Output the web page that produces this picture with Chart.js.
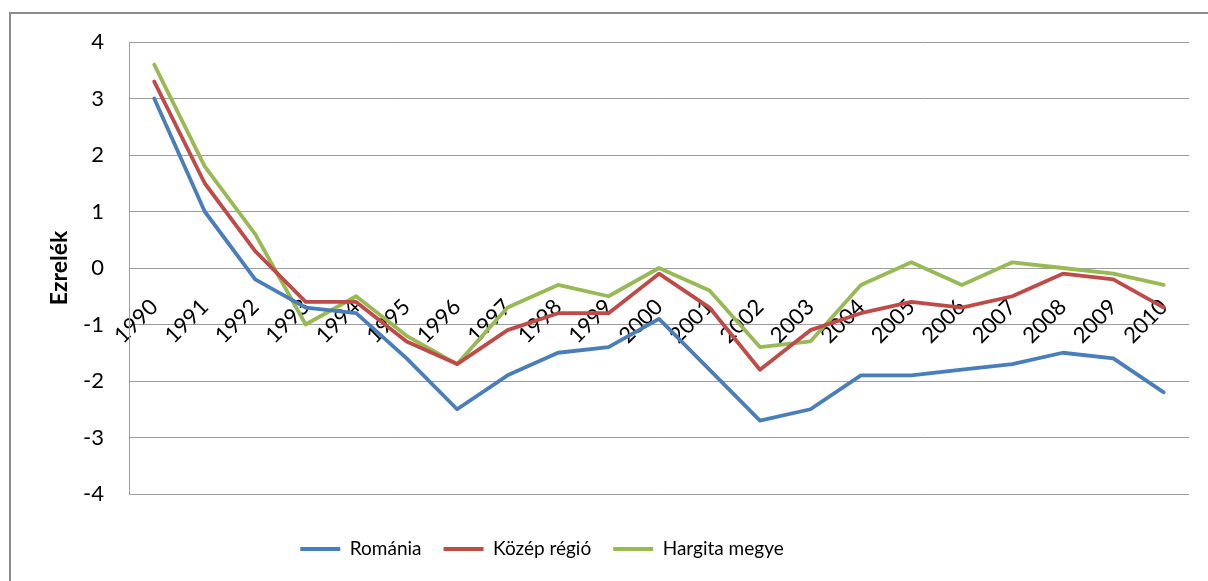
<!DOCTYPE html>
<html><head><meta charset="utf-8">
<script src="https://cdn.jsdelivr.net/npm/chart.js@4.4.0/dist/chart.umd.min.js"></script>
<style>html,body{margin:0;padding:0;background:#fff;overflow:hidden}</style>
</head><body>
<canvas id="c" width="1208" height="581"></canvas>
<script>
const years = ['1990','1991','1992','1993','1994','1995','1996','1997','1998','1999','2000','2001','2002','2003','2004','2005','2006','2007','2008','2009','2010'];
const romania = [3.0, 1.0, -0.2, -0.7, -0.8, -1.6, -2.5, -1.9, -1.5, -1.4, -0.9, -1.8, -2.7, -2.5, -1.9, -1.9, -1.8, -1.7, -1.5, -1.6, -2.2];
const kozep   = [3.3, 1.5, 0.3, -0.6, -0.6, -1.3, -1.7, -1.1, -0.8, -0.8, -0.1, -0.7, -1.8, -1.1, -0.8, -0.6, -0.7, -0.5, -0.1, -0.2, -0.7];
const hargita = [3.6, 1.8, 0.6, -1.0, -0.5, -1.2, -1.7, -0.7, -0.3, -0.5, 0.0, -0.4, -1.4, -1.3, -0.3, 0.1, -0.3, 0.1, 0.0, -0.1, -0.3];
const seriesNames = ['Románia', 'Közép régió', 'Hargita megye'];
const yTitle = 'Ezrelék';
const yMin = -4, yMax = 4, yStep = 1;

const colors = ['#4A7EBB', '#BE4B48', '#98B954'];
const FONT = 'Lato, "Liberation Sans", sans-serif';

const frame = {
  id: 'frame',
  beforeDraw(chart) {
    const ctx = chart.ctx;
    ctx.save();
    ctx.fillStyle = '#fff';
    ctx.fillRect(0, 0, chart.width, chart.height);
    ctx.strokeStyle = '#8c8c8c';
    ctx.lineWidth = 2;
    ctx.strokeRect(10, 13, 1400, 1000);
    ctx.restore();
  },
  afterLayout(chart) {
    if (chart.legend) { chart.legend.right -= 105; }
  }
};

const mk = (label, data, c) => ({
  label, data, borderColor: c, backgroundColor: c, borderWidth: 3.8,
  pointRadius: 0, pointHoverRadius: 0, tension: 0, fill: false,
  borderCapStyle: 'round', borderJoinStyle: 'round'
});

new Chart(document.getElementById('c'), {
  type: 'line',
  data: {
    labels: years,
    datasets: [
      mk(seriesNames[0], romania, colors[0]),
      mk(seriesNames[1], kozep, colors[1]),
      mk(seriesNames[2], hargita, colors[2])
    ]
  },
  plugins: [frame],
  options: {
    responsive: false,
    animation: false,
    events: [],
    layout: { padding: { left: 0, top: 42, right: 19, bottom: 12.5 } },
    plugins: {
      tooltip: { enabled: false },
      legend: {
        position: 'bottom',
        title: { display: true, text: ' ', font: { size: 10 }, padding: { top: 11.5, bottom: 0 } },
        labels: {
          usePointStyle: true, pointStyle: 'line', pointStyleWidth: 40,
          color: '#000', font: { family: FONT, size: 19 }, padding: 22
        }
      }
    },
    scales: {
      x: {
        type: 'category',
        offset: true,
        position: { y: 0 },
        grid: { display: false },
        border: { display: false },
        ticks: {
          autoSkip: false, minRotation: 45, maxRotation: 45, padding: 18,
          color: '#000', font: { family: FONT, size: 22 }
        }
      },
      y: {
        min: yMin, max: yMax,
        afterFit(s) { s.width = 129; },
        grid: { color: '#9d9d9d', lineWidth: 1, drawTicks: false },
        border: { display: true, color: '#9d9d9d', width: 1 },
        ticks: { stepSize: yStep, padding: 25, color: '#000', font: { family: FONT, size: 22 } },
        title: { display: true, text: yTitle, color: '#000', font: { family: FONT, size: 23, weight: 'bold' }, padding: { top: 46, bottom: 0 } }
      }
    }
  }
});
</script>
</body></html>
